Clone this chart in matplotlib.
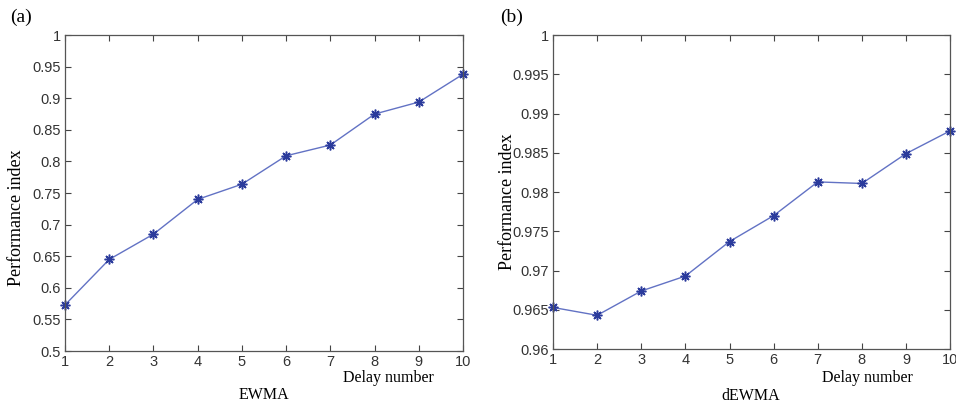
import numpy as np
import matplotlib
matplotlib.use("Agg")
import matplotlib.pyplot as plt

delay = [1, 2, 3, 4, 5, 6, 7, 8, 9, 10]
ewma = [0.573, 0.645, 0.685, 0.740, 0.764, 0.809, 0.826, 0.875, 0.894, 0.938]
dewma = [0.9653, 0.9643, 0.9674, 0.9693, 0.9737, 0.9770, 0.9813, 0.9811, 0.9849, 0.9878]

ewma_ticks = [0.5, 0.55, 0.6, 0.65, 0.7, 0.75, 0.8, 0.85, 0.9, 0.95, 1]
dewma_ticks = [0.96, 0.965, 0.97, 0.975, 0.98, 0.985, 0.99, 0.995, 1]

line_col = "#6272c4"
mark_col = "#2b3b9c"
tick_font = "Liberation Sans"
label_font = "Liberation Serif"

fig = plt.figure(figsize=(9.56, 4.04), dpi=100)
ax1 = fig.add_axes([0.068, 0.131, 0.4163, 0.7822])
ax2 = fig.add_axes([0.5785, 0.136, 0.4153, 0.777])


def style(ax, series, yticks, ylim):
    # matlab-like '*' marker: 8-spoke asterisk
    ax.plot(delay, series, color=line_col, lw=1.0, marker=(8, 2, 0),
            markersize=7, markerfacecolor=mark_col, markeredgecolor=mark_col,
            markeredgewidth=1.1, clip_on=False)
    ax.set_xlim(1, 10)
    ax.set_ylim(*ylim)
    ax.set_xticks(delay)
    ax.set_yticks(yticks)
    ax.set_yticklabels([f"{t:g}" for t in yticks])
    ax.tick_params(direction="in", top=True, right=True, length=4,
                   width=0.8, colors="#444444", labelsize=10.5, pad=3)
    for lab in ax.get_xticklabels() + ax.get_yticklabels():
        lab.set_fontfamily(tick_font)
        lab.set_color("#333333")
    for s in ax.spines.values():
        s.set_color("#555555")
        s.set_linewidth(0.9)


style(ax1, ewma, ewma_ticks, (0.5, 1))
style(ax2, dewma, dewma_ticks, (0.96, 1))

# panel letters, axis captions
fig.text(10 / 956, 1 - 17 / 404, "(a)", fontfamily=label_font, fontsize=14, va="center")
fig.text(500 / 956, 1 - 17 / 404, "(b)", fontfamily=label_font, fontsize=14, va="center")

fig.text(388 / 956, 1 - 378 / 404, "Delay number", fontfamily=label_font, fontsize=11.5,
         ha="center", va="center")
fig.text(264 / 956, 1 - 395 / 404, "EWMA", fontfamily=label_font, fontsize=11.5,
         ha="center", va="center")
fig.text(867 / 956, 1 - 378 / 404, "Delay number", fontfamily=label_font, fontsize=11.5,
         ha="center", va="center")
fig.text(751 / 956, 1 - 396 / 404, "dEWMA", fontfamily=label_font, fontsize=11.5,
         ha="center", va="center")

fig.text(17 / 956, 1 - 218 / 404, "Performance index", fontfamily=label_font, fontsize=13,
         rotation=90, ha="center", va="center")
fig.text(507 / 956, 1 - 202 / 404, "Performance index", fontfamily=label_font, fontsize=13,
         rotation=90, ha="center", va="center")

fig.savefig("out.png", dpi=100)
